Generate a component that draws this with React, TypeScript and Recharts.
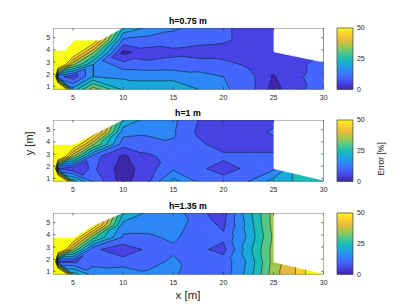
import React from 'react';
import { ScatterChart, Scatter, XAxis, YAxis, BarChart, Bar } from 'recharts';

// ---------- data ----------
const X_NODES = [3, 3.5, 5, 7, 10, 12.5, 15, 17.5, 20, 22.5, 25, 27.5, 30];
const Y_NODES = [0.75, 1.8, 2.8, 3.8, 4.8, 5.8];
const LEVELS = [0, 5, 10, 15, 20, 25, 30, 35, 40, 45, 50];
const X_TICKS = [5, 10, 15, 20, 25, 30];
const Y_TICKS = [1, 2, 3, 4, 5];
const CB_TICKS = [0, 25, 50];
const TITLES = ['h=0.75 m', 'h=1 m', 'h=1.35 m'];

// error [%] rows from y=0.75 (bottom) to y=5.8 (top), columns follow X_NODES
const ERROR_H075 = [
  [90, 90, 22, 38, 24, 22, 22, 20, 16, 12, 3, 9, 13],
  [90, 12, 7, 20, 19, 19, 19, 17, 15, 12, 4.5, 9.5, 12],
  [90, 65, 36, 20, 12, 11, 11.5, 12, 12, 9, 7, 9.5, 11],
  [90, 80, 58, 36, 3.5, 8, 9, 8, 7, 7, 8, 9.5, 10],
  [90, 90, 80, 56, 14, 13, 12, 11.5, 11, 8, 8, 9, 10],
  [90, 90, 90, 80, 24, 19, 16, 13, 11, 8, 8, 9, 10],
];
const ERROR_H100 = [
  [90, 90, 28, 14, 3, 9.5, 22, 14, 12, 15, 22, 26, 27],
  [90, 10, 6, 11, 2.5, 8, 14, 11, 8, 11, 14, 26, 27],
  [90, 65, 36, 12, 4, 9, 12, 11, 11, 11, 11, 26, 27],
  [90, 80, 58, 36, 12, 13, 14.5, 11, 8, 8, 8, 9, 9],
  [90, 90, 80, 56, 17, 16, 15.5, 9, 7, 7, 11, 9, 9],
  [90, 90, 90, 80, 24, 18, 16, 10, 7, 7, 8, 9, 9],
];
const ERROR_H135 = [
  [90, 90, 28, 18, 19, 16, 15.5, 13, 12, 22, 38, 46, 60],
  [90, 9, 9, 13, 12, 13, 16, 12, 12, 21, 37, 46, 60],
  [90, 65, 36, 11, 7, 11, 14, 11, 8.5, 23, 37, 46, 60],
  [90, 80, 58, 32, 14, 14, 16, 12, 11, 21, 36, 46, 60],
  [90, 90, 80, 56, 18, 17, 17, 13, 9, 22, 37, 46, 60],
  [90, 90, 90, 80, 25, 19, 18, 11, 8, 23, 37, 46, 60],
];

// regions without measurements (drawn white)
const NODATA_H075 = [
  [[3, 3.98], [4.17, 3.98], [5.16, 4.81], [7.73, 4.81], [9.9, 5.8], [3, 5.8]],
  [[25.05, 5.8], [25.05, 3.84], [30, 3.0], [30, 5.8]],
];
const NODATA_H100 = [
  [[3, 3.8], [5.06, 3.8], [9.9, 5.8], [3, 5.8]],
  [[25.05, 5.8], [25.05, 1.8], [30, 0.85], [30, 5.8]],
];
const NODATA_H135 = [
  [[3, 3.78], [5.06, 3.78], [6.9, 4.75], [9.9, 5.8], [3, 5.8]],
  [[25.05, 5.8], [25.05, 1.77], [30, 0.82], [30, 5.8]],
];

const PARULA = ['#3e26a8', '#4642e3', '#4367fd', '#2d87f7', '#1ba8dc', '#1abdb5', '#54c887', '#a0c84e', '#e3bc3d', '#fcce2d', '#f9fb15'];

// ---------- layout ----------
const PLOT_LEFT = 52.6;
const PLOT_W = 270.7;
const PANEL_TOPS = [27.8, 120.3, 212.5];
const PANEL_H = 61.4;
const CB_LEFT = 336.7;
const CB_W = 15.6;
const X_DOMAIN: [number, number] = [3, 30];
const Y_DOMAIN: [number, number] = [0.75, 5.8];
const FONT = 'Liberation Sans, Arial, Helvetica, sans-serif';

// ---------- contour helpers ----------
type P = [number, number, number];

function clip(poly: P[], level: number, keepAbove: boolean): P[] {
  const out: P[] = [];
  const n = poly.length;
  for (let i = 0; i < n; i++) {
    const a = poly[i];
    const b = poly[(i + 1) % n];
    const ina = keepAbove ? a[2] >= level : a[2] <= level;
    const inb = keepAbove ? b[2] >= level : b[2] <= level;
    if (ina) out.push(a);
    if (ina !== inb) {
      const t = (level - a[2]) / (b[2] - a[2]);
      out.push([a[0] + t * (b[0] - a[0]), a[1] + t * (b[1] - a[1]), level]);
    }
  }
  return out;
}

function buildContours(grid: number[][]) {
  const fills: { color: string; pts: [number, number][] }[] = [];
  const segs: [number, number][][] = [];
  const v = (j: number, i: number) => grid[j][i] + 0.013;
  for (let j = 0; j < Y_NODES.length - 1; j++) {
    for (let i = 0; i < X_NODES.length - 1; i++) {
      const p00: P = [X_NODES[i], Y_NODES[j], v(j, i)];
      const p10: P = [X_NODES[i + 1], Y_NODES[j], v(j, i + 1)];
      const p01: P = [X_NODES[i], Y_NODES[j + 1], v(j + 1, i)];
      const p11: P = [X_NODES[i + 1], Y_NODES[j + 1], v(j + 1, i + 1)];
      const tris: P[][] =
        Math.abs(p00[2] - p11[2]) <= Math.abs(p10[2] - p01[2])
          ? [[p00, p10, p11], [p00, p11, p01]]
          : [[p00, p10, p01], [p10, p11, p01]];
      for (const tri of tris) {
        for (let k = 0; k < LEVELS.length; k++) {
          let poly = clip(tri, LEVELS[k], true);
          if (k < LEVELS.length - 1) poly = clip(poly, LEVELS[k + 1], false);
          if (poly.length >= 3) fills.push({ color: PARULA[k], pts: poly.map((p) => [p[0], p[1]] as [number, number]) });
        }
        for (let k = 1; k < LEVELS.length; k++) {
          const L = LEVELS[k];
          const cross: [number, number][] = [];
          for (let e = 0; e < 3; e++) {
            const a = tri[e];
            const b = tri[(e + 1) % 3];
            if ((a[2] - L) * (b[2] - L) < 0) {
              const t = (L - a[2]) / (b[2] - a[2]);
              cross.push([a[0] + t * (b[0] - a[0]), a[1] + t * (b[1] - a[1])]);
            }
          }
          if (cross.length === 2) segs.push(cross);
        }
      }
    }
  }
  return { fills, segs };
}

const Nothing = () => null;

function pathOf(pts: { x: number; y: number }[], close: boolean) {
  return 'M' + pts.map((q) => `${q.x.toFixed(2)},${q.y.toFixed(2)}`).join('L') + (close ? 'Z' : '');
}

function Panel({ grid, masks, top }: any) {
  const { fills, segs } = React.useMemo(() => buildContours(grid), [grid]);
  const fillData = fills.flatMap((f) => f.pts.map(([x, y]) => ({ x, y })));
  const segData = segs.flatMap((s) => s.map(([x, y]) => ({ x, y })));
  const maskData = masks.flatMap((m: number[][]) => m.map(([x, y]) => ({ x, y })));
  const maskSizes = masks.map((m: number[][]) => m.length);
  const frameData = [
    { x: X_DOMAIN[0], y: Y_DOMAIN[0] },
    { x: X_DOMAIN[1], y: Y_DOMAIN[0] },
    { x: X_DOMAIN[1], y: Y_DOMAIN[1] },
    { x: X_DOMAIN[0], y: Y_DOMAIN[1] },
    ...X_TICKS.map((x) => ({ x, y: Y_DOMAIN[0] })),
    ...X_TICKS.map((x) => ({ x, y: Y_DOMAIN[1] })),
    ...Y_TICKS.map((y) => ({ x: X_DOMAIN[0], y })),
    ...Y_TICKS.map((y) => ({ x: X_DOMAIN[1], y })),
  ];

  const renderFills = (props: any) => {
    const pts = props.points || [];
    let idx = 0;
    return (
      <g>
        {fills.map((f, i) => {
          const seg = pts.slice(idx, idx + f.pts.length);
          idx += f.pts.length;
          if (seg.length < 3) return null;
          return <path key={i} d={pathOf(seg, true)} fill={f.color} stroke={f.color} strokeWidth={0.9} strokeLinejoin="round" />;
        })}
      </g>
    );
  };
  const renderLines = (props: any) => {
    const pts = props.points || [];
    let d = '';
    for (let i = 0; i + 1 < pts.length; i += 2) d += `M${pts[i].x.toFixed(2)},${pts[i].y.toFixed(2)}L${pts[i + 1].x.toFixed(2)},${pts[i + 1].y.toFixed(2)}`;
    return <path d={d} fill="none" stroke="#000" strokeWidth={0.5} />;
  };
  const renderMasks = (props: any) => {
    const pts = props.points || [];
    let idx = 0;
    return (
      <g>
        {maskSizes.map((n: number, i: number) => {
          const seg = pts.slice(idx, idx + n);
          idx += n;
          return <path key={i} d={pathOf(seg, true)} fill="#fff" stroke="#fff" strokeWidth={0.8} />;
        })}
      </g>
    );
  };
  const renderFrame = (props: any) => {
    const pts = props.points || [];
    if (pts.length < 4) return <g />;
    const T = 2.5;
    let d = pathOf(pts.slice(0, 4), true);
    const nx = X_TICKS.length;
    const ny = Y_TICKS.length;
    let k = 4;
    for (let i = 0; i < nx; i++, k++) d += `M${pts[k].x},${pts[k].y}l0,${-T}`;
    for (let i = 0; i < nx; i++, k++) d += `M${pts[k].x},${pts[k].y}l0,${T}`;
    for (let i = 0; i < ny; i++, k++) d += `M${pts[k].x},${pts[k].y}l${T},0`;
    for (let i = 0; i < ny; i++, k++) d += `M${pts[k].x},${pts[k].y}l${-T},0`;
    return <path d={d} fill="none" stroke="#3a3a3a" strokeWidth={0.7} />;
  };

  const yAxisW = 22;
  const xAxisH = 16;
  const mTop = 3;
  const mRight = 9;
  const W = PLOT_W + yAxisW + mRight;
  const H = PANEL_H + mTop + xAxisH;
  const tickStyle = { fontSize: 7, fill: '#262626', fontFamily: FONT };

  return (
    <div style={{ position: 'absolute', left: PLOT_LEFT - yAxisW, top: top - mTop, width: W, height: H }}>
      <ScatterChart width={W} height={H} margin={{ top: mTop, right: mRight, bottom: 0, left: 0 }}>
        <XAxis
          type="number"
          dataKey="x"
          domain={X_DOMAIN}
          ticks={X_TICKS}
          interval={0}
          allowDataOverflow
          tickLine={false}
          axisLine={false}
          tickSize={0}
          tickMargin={5.3}
          height={xAxisH}
          tick={tickStyle}
        />
        <YAxis
          type="number"
          dataKey="y"
          domain={Y_DOMAIN}
          ticks={Y_TICKS}
          interval={0}
          allowDataOverflow
          tickLine={false}
          axisLine={false}
          tickSize={0}
          tickMargin={2.8}
          width={yAxisW}
          tick={tickStyle}
        />
        <Scatter data={fillData} shape={Nothing} line={renderFills} lineType="joint" isAnimationActive={false} />
        <Scatter data={segData} shape={Nothing} line={renderLines} lineType="joint" isAnimationActive={false} />
        <Scatter data={maskData} shape={Nothing} line={renderMasks} lineType="joint" isAnimationActive={false} />
        <Scatter data={frameData} shape={Nothing} line={renderFrame} lineType="joint" isAnimationActive={false} />
      </ScatterChart>
    </div>
  );
}

function ColorBar({ top, id }: { top: number; id: string }) {
  const data = [{ k: 'c', v: LEVELS[LEVELS.length - 1] }];
  const axisW = 22;
  const m = 6;
  const W = 1 + CB_W + axisW;
  const H = PANEL_H + 2 * m;
  return (
    <div style={{ position: 'absolute', left: CB_LEFT - 1, top: top - m, width: W, height: H }}>
      <BarChart width={W} height={H} data={data} margin={{ top: m, right: 0, bottom: m, left: 1 }} barCategoryGap={0}>
        <defs>
          <linearGradient id={id} x1="0" y1="1" x2="0" y2="0">
            {PARULA.map((c, i) => (
              <stop key={i} offset={i / (PARULA.length - 1)} stopColor={c} />
            ))}
          </linearGradient>
        </defs>
        <XAxis dataKey="k" hide />
        <YAxis
          orientation="right"
          type="number"
          domain={[0, 50]}
          ticks={CB_TICKS}
          interval={0}
          tickLine={false}
          axisLine={false}
          tickSize={0}
          tickMargin={4.4}
          width={axisW}
          tick={{ fontSize: 7, fill: '#262626', fontFamily: FONT }}
        />
        <Bar dataKey="v" fill={`url(#${id})`} stroke="#3a3a3a" strokeWidth={0.7} isAnimationActive={false} />
      </BarChart>
    </div>
  );
}

export default function App() {
  const grids = [ERROR_H075, ERROR_H100, ERROR_H135];
  const masks = [NODATA_H075, NODATA_H100, NODATA_H135];
  return (
    <div style={{ position: 'absolute', left: 0, top: 0, width: 411, height: 308, background: '#fff', fontFamily: FONT }}>
      {grids.map((g, i) => (
        <Panel key={i} grid={g} masks={masks[i]} top={PANEL_TOPS[i]} />
      ))}
      {PANEL_TOPS.map((t, i) => (
        <ColorBar key={i} top={t} id={`parula${i}`} />
      ))}
      <svg width={411} height={308} style={{ position: 'absolute', left: 0, top: 0, pointerEvents: 'none' }}>
        {TITLES.map((t, i) => (
          <text key={i} x={PLOT_LEFT + PLOT_W / 2} y={PANEL_TOPS[i] - 4} textAnchor="middle" fontSize={8.8} fontWeight="bold" fill="#000" fontFamily={FONT}>
            {t}
          </text>
        ))}
        <text x={188} y={298.5} textAnchor="middle" fontSize={11.5} fill="#262626" fontFamily={FONT}>
          x [m]
        </text>
        <text transform="translate(32.7,143.3) rotate(-90)" textAnchor="middle" fontSize={11} fill="#262626" fontFamily={FONT}>
          y [m]
        </text>
        <text transform="translate(384,159) rotate(-90)" textAnchor="middle" fontSize={8.5} fill="#262626" fontFamily={FONT}>
          Error [%]
        </text>
      </svg>
    </div>
  );
}
